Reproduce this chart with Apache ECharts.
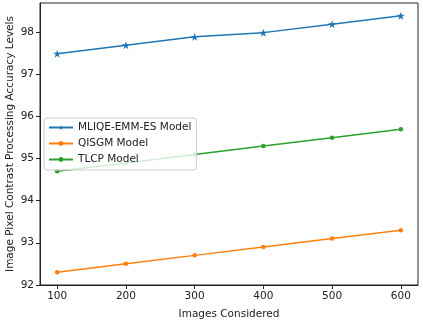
<!DOCTYPE html>
<html><head><meta charset="utf-8">
<script src="https://cdn.jsdelivr.net/npm/echarts@6/dist/echarts.min.js"></script>
<style>html,body{margin:0;padding:0;background:#fff}#c{width:423px;height:320px}</style>
</head><body><div id="c"></div>
<script>
const categories = [100, 200, 300, 400, 500, 600];
const mliqe = [97.5, 97.7, 97.9, 98.0, 98.2, 98.4];
const qisgm = [92.3, 92.5, 92.7, 92.9, 93.1, 93.3];
const tlcp = [94.7, 94.9, 95.1, 95.3, 95.5, 95.7];
const yTicks = [92, 93, 94, 95, 96, 97, 98];
const seriesNames = ['MLIQE-EMM-ES Model', 'QISGM Model', 'TLCP Model'];

const star = 'path://M0,-1 L0.2245,-0.309 L0.951,-0.309 L0.363,0.118 L0.588,0.809 L0,0.382 L-0.588,0.809 L-0.363,0.118 L-0.951,-0.309 L-0.2245,-0.309 Z';
const font = 'DejaVu Sans';
const fs = 10.5;
const pair = arr => categories.map((c, i) => [c, arr[i]]);

const chart = echarts.init(document.getElementById('c'), null, {renderer: 'canvas'});
chart.setOption({
  animation: false,
  textStyle: {fontFamily: font},
  grid: {left: 40, right: 5, top: 3, bottom: 35, show: true, borderColor: '#222', borderWidth: 1,
         containLabel: false, outerBoundsMode: 'none'},
  legend: {
    orient: 'vertical', left: 44, top: 118,
    data: seriesNames,
    backgroundColor: 'rgba(255,255,255,0.8)', borderColor: '#ccc', borderWidth: 1, borderRadius: 3,
    padding: [4, 5, 5, 4], itemGap: 5, itemWidth: 24, itemHeight: 6,
    textStyle: {fontFamily: font, fontSize: fs, color: '#222'}
  },
  xAxis: {
    type: 'value', min: 75, max: 625,
    name: 'Images Considered', nameLocation: 'middle', nameGap: 24, nameMoveOverlap: false,
    nameTextStyle: {fontFamily: font, fontSize: fs, color: '#222'},
    splitLine: {show: false},
    axisLine: {show: true, lineStyle: {color: '#222'}},
    axisTick: {show: true, length: 4, lineStyle: {color: '#222'}, customValues: categories},
    axisLabel: {fontFamily: font, fontSize: fs, color: '#222', margin: 6, customValues: categories}
  },
  yAxis: {
    type: 'value', min: 91.995, max: 98.705,
    name: 'Image Pixel Contrast Processing Accuracy Levels', nameLocation: 'middle', nameGap: 24, nameMoveOverlap: false,
    nameTextStyle: {fontFamily: font, fontSize: fs, color: '#222'},
    splitLine: {show: false},
    axisLine: {show: true, lineStyle: {color: '#222'}},
    axisTick: {show: true, length: 4, lineStyle: {color: '#222'}, customValues: yTicks},
    axisLabel: {fontFamily: font, fontSize: fs, color: '#222', margin: 6, customValues: yTicks}
  },
  series: [
    {name: seriesNames[0], type: 'line', data: pair(mliqe), symbol: star, symbolSize: 8,
     color: '#1f77b4', lineStyle: {width: 1.5}, itemStyle: {color: '#1f77b4'}},
    {name: seriesNames[1], type: 'line', data: pair(qisgm), symbol: 'circle', symbolSize: 4.5,
     color: '#ff7f0e', lineStyle: {width: 1.5}, itemStyle: {color: '#ff7f0e'}},
    {name: seriesNames[2], type: 'line', data: pair(tlcp), symbol: 'circle', symbolSize: 4.5,
     color: '#2ca02c', lineStyle: {width: 1.5}, itemStyle: {color: '#2ca02c'}}
  ]
});
</script></body></html>
